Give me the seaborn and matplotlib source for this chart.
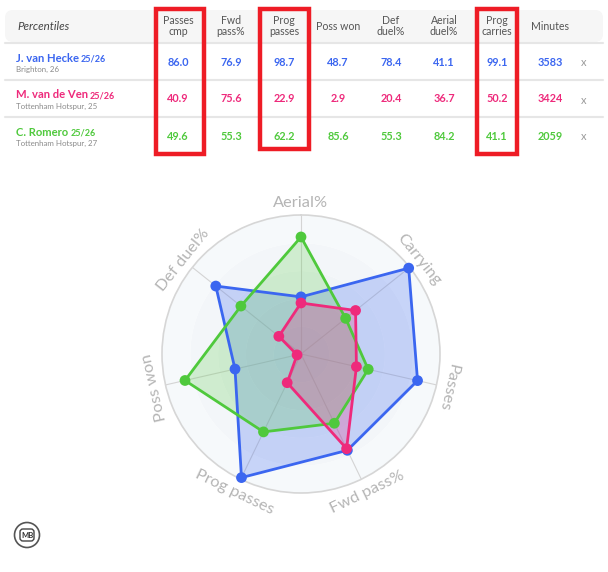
import numpy as np
import pandas as pd
import matplotlib
matplotlib.use("Agg")
import matplotlib.pyplot as plt
from matplotlib.patches import FancyBboxPatch, Rectangle, Circle
import seaborn as sns

# ── data ─────────────────────────────────────────────────────────────────────
players  = ["J. van Hecke", "M. van de Ven", "C. Romero"]
seasons  = ["25/26", "25/26", "25/26"]
subtitle = ["Brighton, 26", "Tottenham Hotspur, 25", "Tottenham Hotspur, 27"]
colors   = ["#3b66f0", "#ee2a7b", "#4fc93c"]

columns = ["Passes\ncmp", "Fwd\npass%", "Prog\npasses", "Poss won", "Def\nduel%",
           "Aerial\nduel%", "Prog\ncarries", "Minutes"]
table_vals = [
    ["86.0", "76.9", "98.7", "48.7", "78.4", "41.1", "99.1", "3583"],
    ["40.9", "75.6", "22.9", "2.9",  "20.4", "36.7", "50.2", "3424"],
    ["49.6", "55.3", "62.2", "85.6", "55.3", "84.2", "41.1", "2059"],
]

metrics    = ["Aerial%", "Carrying", "Passes", "Fwd pass%", "Prog passes", "Poss won", "Def duel%"]
van_hecke  = [41.1, 99.1, 86.0, 76.9, 98.7, 48.7, 78.4]
van_de_ven = [36.7, 50.2, 40.9, 75.6, 22.9, 2.9, 20.4]
romero     = [84.2, 41.1, 49.6, 55.3, 62.2, 85.6, 55.3]

sns.set_theme(style="white")
plt.rcParams["font.family"] = ["Lato", "DejaVu Sans"]

fig = plt.figure(figsize=(6.08, 5.72), dpi=100)

# ── table (pixel coords) ─────────────────────────────────────────────────────
tab = fig.add_axes([0, 0, 1, 1])
tab.set_xlim(0, 608)
tab.set_ylim(572, 0)
tab.axis("off")

tab.add_patch(FancyBboxPatch((5, 10), 598, 32, boxstyle="round,pad=0,rounding_size=8",
                             fc="#f6f6f6", ec="none", zorder=0))
for y in [43, 80, 117]:
    tab.plot([5, 603], [y, y], color="#e6e6e6", lw=1.5, zorder=1)

tab.text(17, 26, "Percentiles", fontsize=8.3, style="italic", color="#444444", va="center")
col_x = [178, 231, 284, 338, 391, 444, 497, 550]
for cx, name in zip(col_x, columns):
    tab.text(cx, 26, name, fontsize=7.6, color="#555555", ha="center", va="center",
             linespacing=1.05)

row_y = [62, 99, 136]
fig.canvas.draw()
rend = fig.canvas.get_renderer()
for i, (ry, nm) in enumerate(zip(row_y, players)):
    t = tab.text(16, ry - 4, nm, fontsize=8.1, weight="bold", color=colors[i], va="center")
    bb = t.get_window_extent(renderer=rend)
    x_end = tab.transData.inverted().transform((bb.x1, bb.y0))[0]
    tab.text(x_end + 2, ry - 3, seasons[i], fontsize=6.5, weight="bold", color=colors[i],
             va="center")
    tab.text(16, ry + 7, subtitle[i], fontsize=5.7, color="#8a8a8a", va="center")
    for cx, v in zip(col_x, table_vals[i]):
        tab.text(cx, ry, v, fontsize=7.8, weight="bold", color=colors[i],
                 ha="center", va="center")
    tab.text(584, ry + 1, "x", fontsize=8, color="#9a9a9a", ha="center", va="center")

# red highlight boxes
for x0, x1, y1 in [(156, 204, 154), (260, 309, 149), (477, 517, 154)]:
    tab.add_patch(Rectangle((x0, 9), x1 - x0, y1 - 9, fill=False, ec="#ee1c25",
                            lw=3.2, zorder=5))

# logo
tab.add_patch(Circle((27, 535), 12.5, fill=False, ec="#555555", lw=1.2))
tab.add_patch(FancyBboxPatch((20, 529), 14, 12, boxstyle="round,pad=0,rounding_size=3",
                             fc="white", ec="#444444", lw=1))
tab.text(27, 535.5, "MB", fontsize=5.5, weight="bold", color="#333333",
         ha="center", va="center")

# ── radar ────────────────────────────────────────────────────────────────────
cx, cy, rad = 301, 354, 139
ax = fig.add_axes([(cx - rad) / 608, (572 - cy - rad) / 572, 2 * rad / 608, 2 * rad / 572],
                  projection="polar")
ax.set_theta_offset(np.pi / 2)
ax.set_theta_direction(-1)
ax.set_ylim(0, 100)
ax.set_facecolor("none")

n = len(metrics)
theta = np.arange(n) * 2 * np.pi / n

# background bands
tt = np.linspace(0, 2 * np.pi, 300)
band_cols = ["#e9eff3", "#edf2f5", "#f0f4f7", "#f3f6f9", "#f6f9fb"]
for k, c in enumerate(band_cols):
    ax.fill_between(tt, k * 20, (k + 1) * 20, color=c, lw=0, zorder=0)

ax.set_xticks(theta)
ax.set_xticklabels([])
ax.set_yticks([])
ax.xaxis.grid(True, color="#d4d4d4", lw=0.8)
ax.spines["polar"].set_color("#d6d6d6")
ax.spines["polar"].set_linewidth(1.2)

names = ["van Hecke", "Romero", "van de Ven"]
series = [van_hecke, romero, van_de_ven]
ser_cols = [colors[0], colors[2], colors[1]]
fills = [0.25, 0.22, 0.25]
rows = []
for name, vals in zip(names, series):
    for th, v in zip(list(theta) + [theta[0]], list(vals) + [vals[0]]):
        rows.append({"player": name, "theta": th, "value": v})
df = pd.DataFrame(rows)

for name, col, fa in zip(names, ser_cols, fills):
    d = df[df.player == name]
    ax.fill(d.theta, d.value, color=col, alpha=fa, lw=0, zorder=2)
for name, col in zip(names, ser_cols):
    d = df[df.player == name]
    sns.lineplot(data=d, x="theta", y="value", sort=False, color=col, lw=2,
                 ax=ax, zorder=3, estimator=None, clip_on=False)
    sns.scatterplot(data=d.iloc[:-1], x="theta", y="value", color=col, s=60,
                    edgecolor="none", ax=ax, zorder=4, clip_on=False)
ax.set_xlabel("")
ax.set_ylabel("")

# tangential axis labels
for th, lab in zip(theta, metrics):
    rot = -np.degrees(th)
    rot = (rot + 180) % 360 - 180
    if abs(rot) > 120:
        rot = rot + 180 if rot < 0 else rot - 180
        r = 110
    else:
        r = 108.5
    ax.text(th, r, lab, rotation=rot, rotation_mode="anchor", ha="center", va="center",
            fontsize=11.8, color="#b5b5b5", clip_on=False)

fig.savefig("out.png", dpi=100)
